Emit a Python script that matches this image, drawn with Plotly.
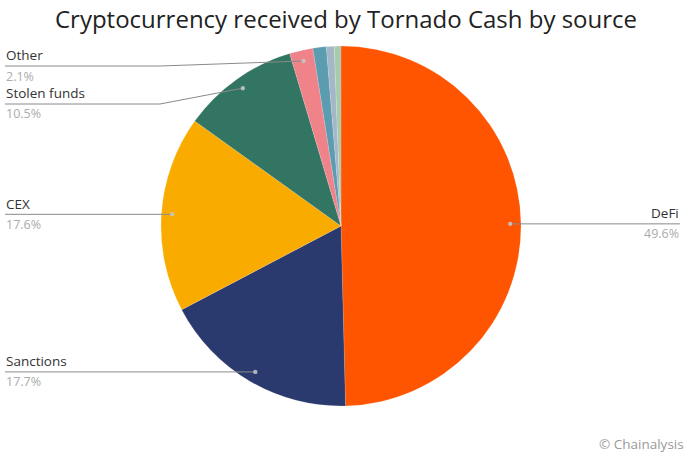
import numpy as np
import plotly.graph_objects as go

labels = ["DeFi", "Sanctions", "CEX", "Stolen funds", "Other", "Misc A", "Misc B", "Misc C"]
values = [49.6, 17.7, 17.6, 10.5, 2.1, 1.2, 0.7, 0.6]
colors = ["#FF5500", "#2B3A6E", "#F9AB00", "#337563", "#F0828A", "#5C9CB0", "#A3B7C6", "#A6CBAF"]
shown = ["DeFi", "Sanctions", "CEX", "Stolen funds", "Other"]
pct_text = ["49.6%", "17.7%", "17.6%", "10.5%", "2.1%"]

W, H = 692, 455
CX, CY, R = 341, 226, 180

def px(x):
    return x / W

def py(y):
    return 1 - y / H

fig = go.Figure(go.Pie(
    labels=labels, values=values, sort=False, direction="clockwise", rotation=0,
    marker=dict(colors=colors, line=dict(color="rgba(255,255,255,0.35)", width=0.4)),
    textinfo="none", hoverinfo="label+percent", showlegend=False,
    domain=dict(x=[px(CX - R), px(CX + R)], y=[py(CY + R), py(CY - R)]),
))

# dot positions computed from the data (mid-angle of each slice)
total = sum(values)
cum = np.cumsum([0] + values[:-1])
mid = (cum + np.array(values) / 2) / total * 2 * np.pi
dot_r = 0.94 * R
dots = {lab: (CX + dot_r * np.sin(a), CY - dot_r * np.cos(a)) for lab, a in zip(labels, mid)}

# label layout: (side, text x, line y, elbow x)
layout_spec = {
    "DeFi": ("right", 680, None, None),
    "Sanctions": ("left", 5, None, None),
    "CEX": ("left", 5, None, None),
    "Stolen funds": ("left", 5, 104, 160),
    "Other": ("left", 5, 66, 160),
}

shapes = []
annotations = []
line_col = "#8a8a8a"
for lab, pt in zip(shown, pct_text):
    side, tx, ly, ex = layout_spec[lab]
    dx, dy = dots[lab]
    if ly is None:
        ly = dy
    if side == "right":
        path = f"M {px(dx)} {py(dy)} L {px(tx)} {py(ly)}"
        anchor = "right"
    else:
        if ex is None:
            path = f"M {px(tx)} {py(ly)} L {px(dx)} {py(dy)}"
        else:
            path = f"M {px(tx)} {py(ly)} L {px(ex)} {py(ly)} L {px(dx)} {py(dy)}"
        anchor = "left"
    shapes.append(dict(type="path", xref="paper", yref="paper", path=path,
                       line=dict(color=line_col, width=1)))
    shapes.append(dict(type="circle", xref="paper", yref="paper",
                       x0=px(dx - 2.2), x1=px(dx + 2.2), y0=py(dy + 2.2), y1=py(dy - 2.2),
                       fillcolor="rgba(200,200,200,0.85)", line=dict(width=0)))
    annotations.append(dict(x=px(tx), y=py(ly - 0.5), xref="paper", yref="paper",
                            text=lab, showarrow=False, xanchor=anchor, yanchor="bottom",
                            borderpad=0, font=dict(size=13.5, color="#333333")))
    annotations.append(dict(x=px(tx), y=py(ly + 0.5), xref="paper", yref="paper",
                            text=pt, showarrow=False, xanchor=anchor, yanchor="top",
                            borderpad=0, font=dict(size=12.5, color="#ababab")))

annotations.append(dict(x=px(686), y=py(444), xref="paper", yref="paper",
                        text="© Chainalysis", showarrow=False, xanchor="right", yanchor="middle",
                        font=dict(size=13.5, color="#9a9a9a")))

fig.update_layout(
    width=W, height=H,
    margin=dict(l=0, r=0, t=0, b=0),
    paper_bgcolor="white", plot_bgcolor="white",
    font=dict(family="Open Sans, Lato, sans-serif"),
    title=dict(text="Cryptocurrency received by Tornado Cash by source",
               x=0.5, xanchor="center", y=py(20), yanchor="middle", yref="paper",
               font=dict(size=24, color="#222222")),
    shapes=shapes, annotations=annotations,
)

fig.write_html("out.html", config={"displayModeBar": False},
               post_script="document.body.style.margin='0';document.body.style.overflow='hidden';")
